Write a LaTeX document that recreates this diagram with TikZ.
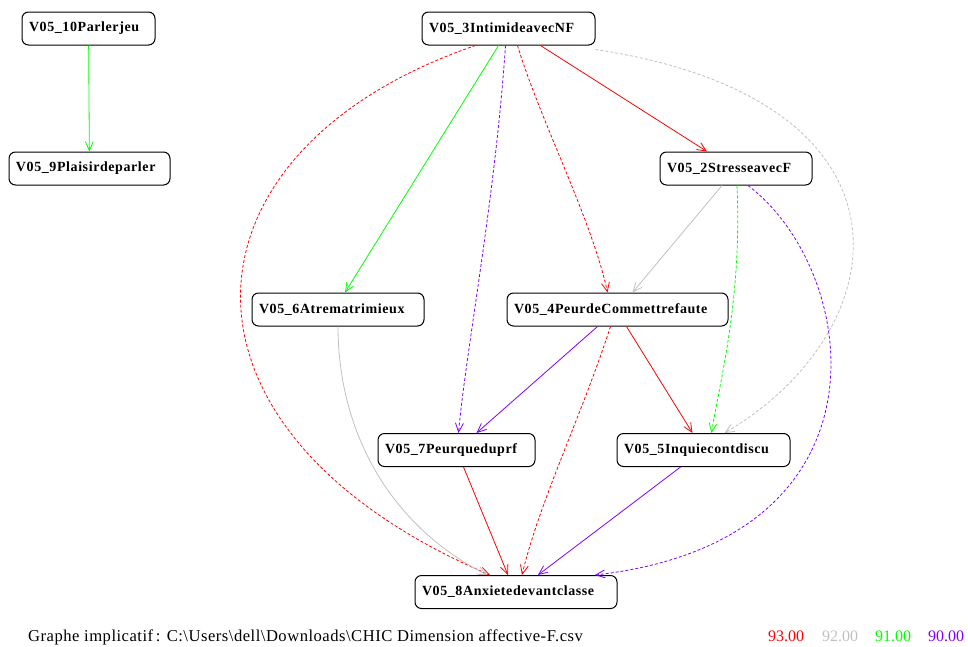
\documentclass[tikz,border=0pt]{standalone}
\usepackage{fontspec}
\setmainfont{Liberation Serif}
\newfontfamily\varfont[LetterSpace=4.2]{Liberation Serif}
\newfontfamily\titlefont[LetterSpace=3]{Liberation Serif}
\usetikzlibrary{arrows.meta}
\definecolor{impred}{RGB}{255,0,0}
\definecolor{impgray}{RGB}{192,192,192}
\definecolor{impgreen}{RGB}{0,255,0}
\definecolor{imppurple}{RGB}{128,0,255}
\tikzset{
  varbox/.style={draw=black, line width=1pt, rounded corners=6.5pt, align=left,
                 font=\varfont\bfseries\fontsize{14}{16}\selectfont, minimum height=33pt,
                 inner xsep=7pt, inner ysep=0pt},
  imparr/.style={-{Straight Barb[length=9pt, width=8pt]}, line width=0.8pt},
  impdash/.style={imparr, dash pattern=on 3pt off 2pt},
  legend/.style={font=\fontsize{16}{18}\selectfont, anchor=base west, inner sep=0pt},
}
\begin{document}
\begin{tikzpicture}[x=1pt, y=-1pt]
  \useasboundingbox (0,0) rectangle (968,646);
  \node[varbox, text width=119pt] (v10) at (88.5,28.5) {V05\_10Parlerjeu};
  \node[varbox, text width=147pt] (v9) at (89.5,168.5) {V05\_9Plaisirdeparler};
  \node[varbox, text width=159pt] (v3) at (508.5,28.5) {V05\_3IntimideavecNF};
  \node[varbox, text width=138pt] (v2) at (736,168.5) {V05\_2StresseavecF};
  \node[varbox, text width=158pt] (v6) at (338,309.5) {V05\_6Atrematrimieux};
  \node[varbox, text width=207pt] (v4) at (617.5,309.5) {V05\_4PeurdeCommettrefaute};
  \node[varbox, text width=143pt] (v7) at (456.5,450) {V05\_7Peurqueduprf};
  \node[varbox, text width=159pt] (v5) at (703.5,450) {V05\_5Inquiecontdiscu};
  \node[varbox, text width=188pt] (v8) at (516,592) {V05\_8Anxietedevantclasse};

  \draw[imparr, impgreen] (v10) -- (v9);
  \draw[imparr, impred] ([xshift=32]v3.south) -- ([xshift=-29]v2.north);
  \draw[imparr, impgreen] ([xshift=-10]v3.south) -- ([xshift=7]v6.north);
  \draw[impdash, imppurple] ([xshift=-3]v3.south) .. controls (495,200) and (466,350) .. ([xshift=2]v7.north);
  \draw[impdash, impred] ([xshift=9]v3.south) .. controls (540,120) and (592,220) .. ([xshift=-10]v4.north);
  \draw[impdash, impred] ([xshift=-33]v3.south) .. controls (170,150) and (150,430) .. ([xshift=-26]v8.north);
  \draw[impdash, impgray] ([yshift=-4]v3.south east) .. controls (930,100) and (900,330) .. ([xshift=21]v5.north);
  \draw[imparr, impgray] ([xshift=-14]v2.south) -- ([xshift=15]v4.north);
  \draw[impdash, impgreen] ([xshift=1]v2.south) .. controls (742,300) and (720,380) .. ([xshift=8]v5.north);
  \draw[impdash, imppurple] ([xshift=12]v2.south) .. controls (860,270) and (900,540) .. ([xshift=79]v8.north);
  \draw[imparr, impgray] (v6.south) .. controls (338,420) and (380,520) .. ([xshift=-29]v8.north);
  \draw[imparr, imppurple] ([xshift=-20]v4.south) -- ([xshift=20]v7.north);
  \draw[impdash, impred] ([xshift=-7]v4.south) .. controls (580,420) and (540,500) .. ([xshift=6]v8.north);
  \draw[imparr, impred] ([xshift=9]v4.south) -- ([xshift=-11]v5.north);
  \draw[imparr, impred] ([xshift=7]v7.south) -- ([xshift=-8]v8.north);
  \draw[imparr, imppurple] ([xshift=-23]v5.south) -- ([xshift=22]v8.north);

  \node[legend, font=\titlefont\fontsize{16.6}{18}\selectfont] (title) at (28,641) {Graphe implicatif\,: C:\textbackslash Users\textbackslash dell\textbackslash Downloads\textbackslash CHIC Dimension affective-F.csv};
  \node[legend, text=impred] (l93) at (768,641) {93.00};
  \node[legend, text=impgray] (l92) at (822,641) {92.00};
  \node[legend, text=impgreen] (l91) at (875,641) {91.00};
  \node[legend, text=imppurple] (l90) at (928,641) {90.00};
\end{tikzpicture}
\end{document}
